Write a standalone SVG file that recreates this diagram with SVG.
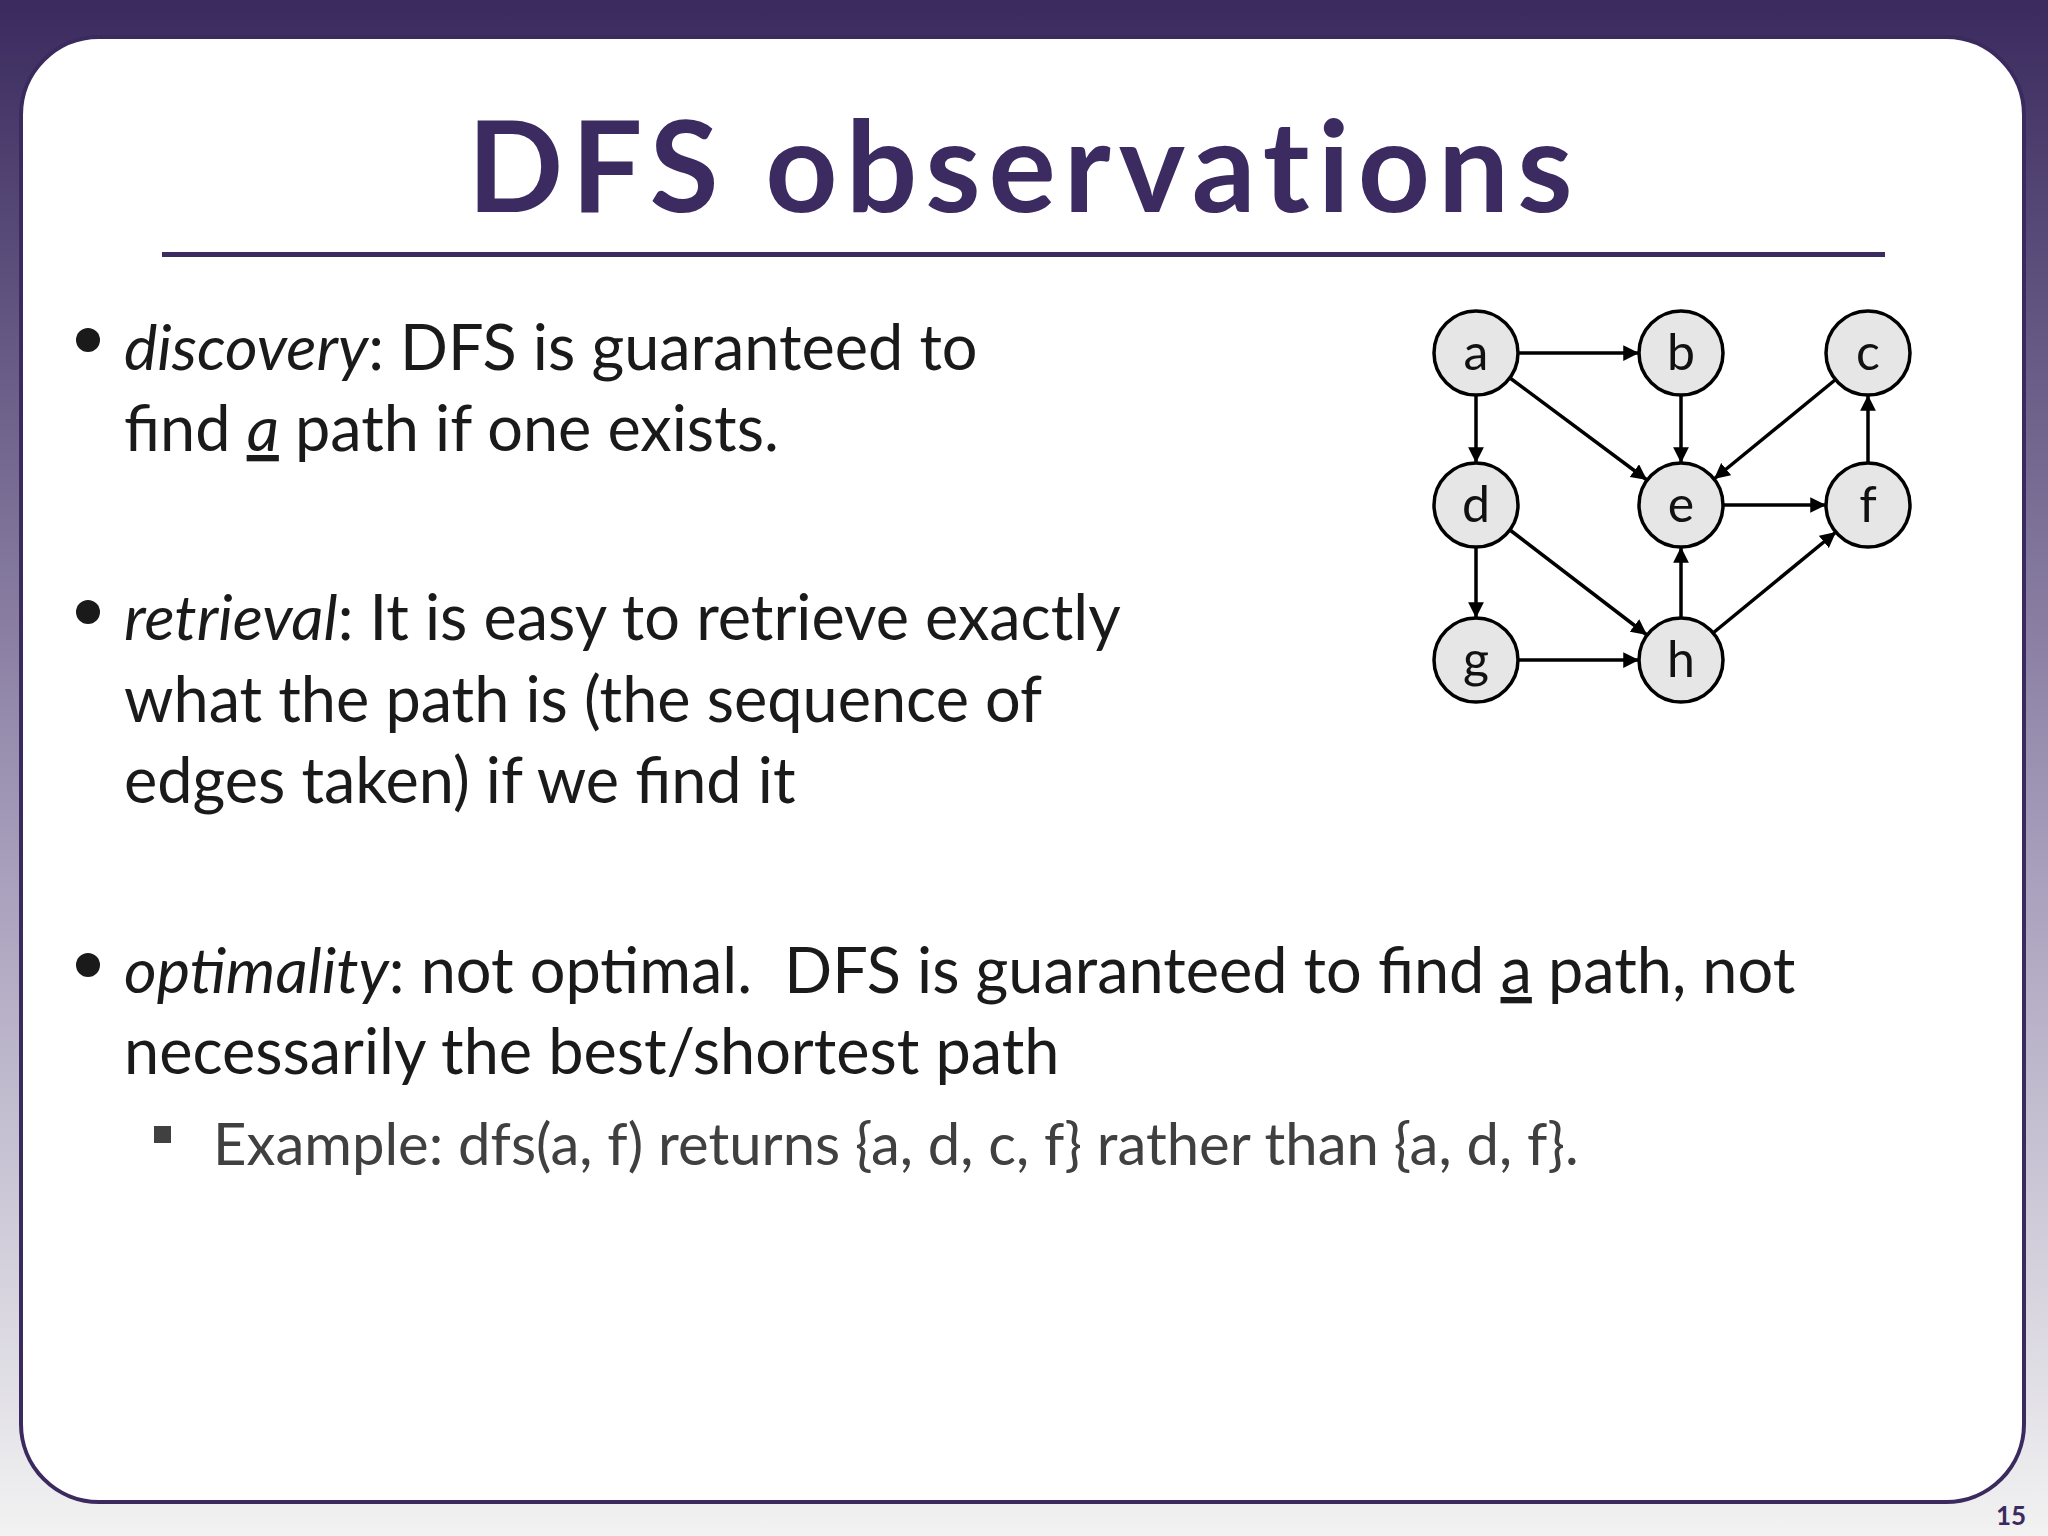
<svg xmlns="http://www.w3.org/2000/svg" width="2048" height="1536" viewBox="0 0 2048 1536">
<defs>
<linearGradient id="bg" x1="0" y1="0" x2="0" y2="1">
<stop offset="0" stop-color="#3a2a5e"/><stop offset="0.55" stop-color="#a59cba"/><stop offset="1" stop-color="#f2f2f2"/>
</linearGradient>
<marker id="ar" viewBox="0 0 10 10" refX="10" refY="5" markerWidth="4.5" markerHeight="4.5" orient="auto"><path d="M0,0 L10,5 L0,10 z" fill="#000"/></marker>
<style>
.t{font-family:Lato,"Open Sans",sans-serif;font-size:63px;fill:#1a1a1a}
.n circle{fill:#e6e6e6;stroke:#000;stroke-width:3.5}
.n text{font-family:Lato,sans-serif;font-size:50px;text-anchor:middle;fill:#111}
#edges line{stroke:#000;stroke-width:3.5;marker-end:url(#ar)}
</style>
</defs>
<rect width="2048" height="1536" fill="url(#bg)"/>
<rect x="21" y="37" width="2003" height="1465" rx="78" fill="#fff" stroke="#3a2a5e" stroke-width="4"/>
<text x="1024" y="212" text-anchor="middle" font-family="Lato,sans-serif" font-weight="bold" font-size="126" letter-spacing="8" fill="#3b2b60">DFS observations</text>
<rect x="162" y="252" width="1723" height="5" fill="#3b2b60"/>
<g fill="#1a1a1a"><circle cx="88" cy="340" r="12"/><circle cx="88" cy="612" r="12"/><circle cx="88" cy="965" r="12"/></g>
<text class="t" x="124" y="370"><tspan font-style="italic">discovery</tspan>: DFS is guaranteed to</text>
<text class="t" x="124" y="451">find <tspan font-style="italic" text-decoration="underline">a</tspan> path if one exists.</text>
<text class="t" x="124" y="640"><tspan font-style="italic">retrieval</tspan>: It is easy to retrieve exactly</text>
<text class="t" x="124" y="722">what the path is (the sequence of</text>
<text class="t" x="124" y="803">edges taken) if we find it</text>
<text class="t" x="124" y="993" xml:space="preserve"><tspan font-style="italic">optimality</tspan>: not optimal.  DFS is guaranteed to find <tspan text-decoration="underline">a</tspan> path, not</text>
<text class="t" x="124" y="1074">necessarily the best/shortest path</text>
<rect x="154" y="1126" width="17" height="17" fill="#404040"/>
<text x="213" y="1165" font-family="Lato,sans-serif" font-size="58" fill="#404040">Example: dfs(a, f) returns {a, d, c, f} rather than {a, d, f}.</text>
<text x="2011" y="1525" text-anchor="middle" font-family="Lato,sans-serif" font-weight="bold" font-size="26" fill="#3b2b60">15</text>
<g id="edges">
<line x1="1518" y1="353" x2="1639" y2="353"/>
<line x1="1476" y1="395" x2="1476" y2="463"/>
<line x1="1510" y1="378" x2="1647" y2="480"/>
<line x1="1681" y1="395" x2="1681" y2="463"/>
<line x1="1835" y1="380" x2="1714" y2="479"/>
<line x1="1476" y1="547" x2="1476" y2="618"/>
<line x1="1510" y1="530" x2="1647" y2="635"/>
<line x1="1723" y1="505" x2="1826" y2="505"/>
<line x1="1868" y1="463" x2="1868" y2="395"/>
<line x1="1518" y1="660" x2="1639" y2="660"/>
<line x1="1681" y1="618" x2="1681" y2="547"/>
<line x1="1713" y1="633" x2="1836" y2="532"/>
</g>
<g id="a" class="n"><circle cx="1476" cy="353" r="42"/><text x="1476" y="370">a</text></g>
<g id="b" class="n"><circle cx="1681" cy="353" r="42"/><text x="1681" y="370">b</text></g>
<g id="c" class="n"><circle cx="1868" cy="353" r="42"/><text x="1868" y="370">c</text></g>
<g id="d" class="n"><circle cx="1476" cy="505" r="42"/><text x="1476" y="522">d</text></g>
<g id="e" class="n"><circle cx="1681" cy="505" r="42"/><text x="1681" y="522">e</text></g>
<g id="f" class="n"><circle cx="1868" cy="505" r="42"/><text x="1868" y="522">f</text></g>
<g id="g" class="n"><circle cx="1476" cy="660" r="42"/><text x="1476" y="677">g</text></g>
<g id="h" class="n"><circle cx="1681" cy="660" r="42"/><text x="1681" y="677">h</text></g>
</svg>
